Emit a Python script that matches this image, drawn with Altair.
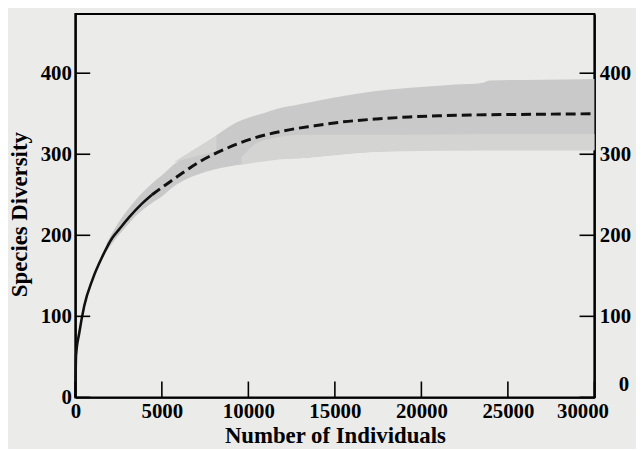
import altair as alt
import pandas as pd

# rarefaction curve
curve_x = [0, 40, 230, 515, 1000, 1565, 2140, 2520, 3100, 3850, 4430, 5000, 5670, 6400,
           7200, 8000, 8720, 10340, 12060, 13800, 15500, 17400, 19300, 21000, 22900,
           25000, 27500, 30000]
curve_y = [0, 52, 80, 113, 146, 174, 197, 207, 222, 239, 250, 259, 269, 280,
           291, 300, 307, 320, 329, 335, 340, 343.5, 346, 347.5, 348.5,
           349, 349.5, 350]
solid_end = 4430

# main grey band
band_x = [1800, 2500, 3000, 3500, 4430, 5000, 5670, 6500, 7500, 8200, 9200, 10000,
          10920, 11680, 12830, 14000, 15500, 17400, 20000, 22000, 23500, 24000,
          27000, 30000]
band_upper = [190, 216, 231, 244, 264, 274, 287, 300, 313, 324, 338, 345,
              351, 356, 361, 366, 372, 378, 383, 386, 388, 391, 392, 393]
band_lower = [180, 200, 212, 224, 240, 248, 260, 270, 278, 282, 286, 289,
              292, 294, 295, 297, 300, 303, 305, 305, 305, 305, 305, 305]

# lighter stippled band
stip_x = [9600, 10500, 11500, 13000, 17400, 24000, 30000]
stip_upper = [296, 314, 320, 324, 324, 325, 325]
stip_lower = [287, 290, 293, 295, 303, 305, 305]

# stippled wedge
wedge_x = [5670, 8150]
wedge_upper = [290, 323]
wedge_lower = [290, 304]

x_ticks = [0, 5000, 10000, 15000, 20000, 25000, 30000]
y_ticks = [0, 100, 200, 300, 400]

W, H = 524, 387
X_TICK_LEN = 16
Y_TICK_LEN = 15

curve = pd.DataFrame({"x": curve_x, "y": curve_y})
solid = curve[curve.x <= solid_end]
dashed = curve[curve.x >= solid_end]
band = pd.DataFrame({"x": band_x, "hi": band_upper, "lo": band_lower})
stip = pd.DataFrame({"x": stip_x, "hi": stip_upper, "lo": stip_lower})
wedge = pd.DataFrame({"x": wedge_x, "hi": wedge_upper, "lo": wedge_lower})
xt = pd.DataFrame({"v": x_ticks})
yt = pd.DataFrame({"v": y_ticks})

FONT = "Liberation Serif"
LABEL_SIZE = 21
TITLE_SIZE = 23
xs = alt.Scale(domain=[0, 30000], nice=False)
ys = alt.Scale(domain=[0, 473], nice=False)

x_axis = alt.Axis(
    values=x_ticks, title="Number of Individuals", format="d",
    labelFont=FONT, labelFontWeight="bold", labelFontSize=LABEL_SIZE, labelColor="black",
    labelPadding=3, labelFlush=False,
    labelOffset={"condition": {"test": "datum.value == 30000", "value": -12}, "value": 0},
    titleFont=FONT, titleFontWeight="bold", titleFontSize=TITLE_SIZE, titleColor="black",
    titlePadding=4,
    domain=True, domainColor="black", domainWidth=2,
    ticks=False, grid=False,
)
y_left = alt.Axis(
    values=y_ticks, title="Species Diversity", orient="left",
    labelFont=FONT, labelFontWeight="bold", labelFontSize=LABEL_SIZE, labelColor="black",
    labelPadding=4,
    titleFont=FONT, titleFontWeight="bold", titleFontSize=TITLE_SIZE, titleColor="black",
    titleX=-44, titleY=202, titleAngle=-90, titleAlign="center", titleBaseline="bottom",
    domain=True, domainColor="black", domainWidth=2,
    ticks=False, grid=False,
)
y_right = alt.Axis(
    values=y_ticks, title=None, orient="right",
    labelFont=FONT, labelFontWeight="bold", labelFontSize=LABEL_SIZE, labelColor="black",
    labelPadding={"condition": {"test": "datum.value == 0", "value": 24}, "value": 5},
    labelOffset={"condition": {"test": "datum.value == 0", "value": -13}, "value": 0},
    domain=True, domainColor="black", domainWidth=2,
    ticks=False, grid=False,
)

X = lambda f: alt.X(f, scale=xs, axis=x_axis)

band_layer = alt.Chart(band).mark_area(color="#c9c9c9", interpolate="monotone").encode(
    x=X("x:Q"), y=alt.Y("hi:Q", scale=ys, axis=y_left), y2="lo:Q",
)
stip_layer = alt.Chart(stip).mark_area(color="#d4d4d2", interpolate="monotone").encode(
    x=X("x:Q"), y=alt.Y("hi:Q", scale=ys, axis=None), y2="lo:Q",
)
wedge_layer = alt.Chart(wedge).mark_area(color="#d4d4d2").encode(
    x=X("x:Q"), y=alt.Y("hi:Q", scale=ys, axis=None), y2="lo:Q",
)
solid_layer = alt.Chart(solid).mark_line(color="#111111", strokeWidth=2.6,
                                          interpolate="monotone").encode(
    x=X("x:Q"), y=alt.Y("y:Q", scale=ys, axis=None),
)
dashed_layer = alt.Chart(dashed).mark_line(color="#111111", strokeWidth=3,
                                           strokeDash=[10, 5],
                                           interpolate="monotone").encode(
    x=X("x:Q"), y=alt.Y("y:Q", scale=ys, axis=y_right),
)
# inward ticks
xtick_layer = alt.Chart(xt).mark_rule(color="black", strokeWidth=1.6).encode(
    x=X("v:Q"), y=alt.value(H), y2=alt.value(H - X_TICK_LEN),
)
ytick_left = alt.Chart(yt).mark_rule(color="black", strokeWidth=1.6).encode(
    y=alt.Y("v:Q", scale=ys, axis=None), x=alt.value(0), x2=alt.value(Y_TICK_LEN),
)
ytick_right = alt.Chart(yt).mark_rule(color="black", strokeWidth=1.6).encode(
    y=alt.Y("v:Q", scale=ys, axis=None), x=alt.value(W), x2=alt.value(W - Y_TICK_LEN),
)

chart = alt.layer(
    band_layer, stip_layer, wedge_layer, solid_layer, dashed_layer,
    xtick_layer, ytick_left, ytick_right,
).resolve_axis(
    y="independent"
).properties(
    width=W, height=H,
    autosize=alt.AutoSizeParams(type="none"),
    padding={"left": 68, "top": 4, "right": 42, "bottom": 50},
    background="#ebebe9",
).configure_view(
    stroke="black", strokeWidth=2,
)

chart.save("out.html", embed_options={"renderer": "svg", "actions": False})
